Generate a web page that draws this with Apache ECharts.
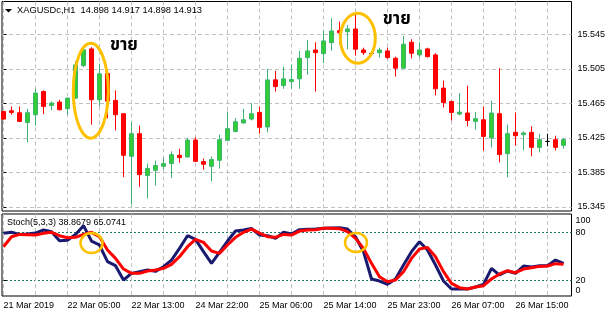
<!DOCTYPE html>
<html><head><meta charset="utf-8">
<script src="https://cdn.jsdelivr.net/npm/echarts@6/dist/echarts.min.js"></script>
<style>html,body{margin:0;padding:0;background:#fff}#c{width:612px;height:318px}</style>
</head><body><div id="c"></div>
<script>
// ---------- data ----------
const symbolTitle = 'XAGUSDc,H1  14.898 14.917 14.898 14.913';
const stochTitle = 'Stoch(5,3,3) 38.8679 65.0741';
const priceTicks = [15.345, 15.385, 15.425, 15.465, 15.505, 15.545];
const stochLevels = [20, 80];
const stochEdgeTicks = [0, 100];
const gridBarIndex = [0, 4, 8, 12, 16, 20, 24, 28, 32, 36, 40, 44, 48, 52, 56, 60, 64, 68];
const timeTickIndex = [0, 8, 16, 24, 32, 40, 48, 56, 64];
const timeTickLabels = ['21 Mar 2019', '22 Mar 05:00', '22 Mar 13:00', '24 Mar 22:00', '25 Mar 06:00',
  '25 Mar 14:00', '25 Mar 23:00', '26 Mar 07:00', '26 Mar 15:00'];

const openP = [15.4556,15.4563,15.4540,15.4428,15.4517,15.4787,15.4625,15.4664,15.4587,15.4710,
  15.5087,15.5280,15.4691,15.4995,15.4683,15.4529,15.4035,15.4297,15.3812,15.3873,
  15.3919,15.3951,15.4047,15.4028,15.4224,15.3974,15.3919,15.3989,15.4220,15.4324,
  15.4421,15.4467,15.4544,15.4375,15.4922,15.4856,15.4902,15.4933,15.5180,15.5268,
  15.5226,15.5353,15.5492,15.5480,15.5511,15.5268,15.5228,15.5237,15.5257,15.5172,
  15.5057,15.5357,15.5211,15.5280,15.5211,15.4826,15.4671,15.4525,15.4537,15.4440,
  15.4459,15.4248,15.4529,15.4066,15.4313,15.4286,15.4313,15.4139,15.4208,15.4228,15.4162];
const closeP = [15.4467,15.4544,15.4440,15.4540,15.4768,15.4614,15.4652,15.4575,15.4710,15.5095,
  15.5270,15.4691,15.4991,15.4675,15.4517,15.4047,15.4297,15.3823,15.3893,15.3928,
  15.3951,15.4055,15.4020,15.4224,15.3977,15.3943,15.3997,15.4228,15.4355,15.4436,
  15.4459,15.4529,15.4371,15.4921,15.4844,15.4933,15.4925,15.5172,15.5257,15.5237,
  15.5373,15.5488,15.5468,15.5511,15.5277,15.5237,15.5228,15.5268,15.5180,15.5057,
  15.5334,15.5230,15.5268,15.5191,15.4818,15.4659,15.4544,15.4548,15.4451,15.4471,
  15.4266,15.4537,15.4055,15.4297,15.4274,15.4306,15.4139,15.4228,15.4208,15.4139,15.4228];
const lowP = [15.4460,15.4517,15.4437,15.4197,15.4394,15.4525,15.4568,15.4568,15.4517,15.4700,
  15.5070,15.4402,15.4614,15.4475,15.4336,15.3793,15.3477,15.3681,15.3546,15.3696,
  15.3881,15.3783,15.3962,15.4020,15.3970,15.3881,15.3746,15.3893,15.4215,15.4313,
  15.4418,15.4451,15.4297,15.4313,15.4786,15.4818,15.4818,15.4818,15.4980,15.4786,
  15.5115,15.5260,15.5334,15.5277,15.5203,15.5211,15.5200,15.5180,15.5164,15.4960,
  15.5057,15.5172,15.5180,15.5180,15.4740,15.4601,15.4451,15.4509,15.4382,15.4344,
  15.4101,15.4139,15.3966,15.3792,15.4159,15.4104,15.4035,15.4081,15.4151,15.4104,15.4124];
const highP = [15.4560,15.4613,15.4613,15.4586,15.4818,15.4799,15.4672,15.4691,15.4712,15.5141,
  15.5280,15.5300,15.5110,15.5010,15.4799,15.4535,15.4433,15.4390,15.3951,15.3985,
  15.4020,15.4093,15.4124,15.4248,15.4255,15.4009,15.4032,15.4286,15.4555,15.4479,
  15.4586,15.4652,15.4613,15.5049,15.5026,15.5075,15.5100,15.5257,15.5384,15.5357,
  15.5492,15.5635,15.5596,15.5558,15.5693,15.5295,15.5235,15.5295,15.5295,15.5191,
  15.5430,15.5392,15.5357,15.5295,15.5230,15.4914,15.4680,15.4768,15.4852,15.4548,
  15.4613,15.4679,15.5057,15.4402,15.4544,15.4324,15.4382,15.4297,15.4297,15.4274,15.4248];

const stochMain = [78.7,80,77.4,77.9,79.1,82.9,80.8,69.5,70,77.4,
  88.3,69.1,64.1,43.3,38.3,20.4,28.7,30.8,32.9,31.2,
  37,45.3,59.9,75.8,71.2,55.8,41.2,55,69.1,81.6,
  82.9,84.9,76.6,75.8,72.4,80,77.9,83.3,83.7,84.1,
  85,85.4,85.8,84.1,74.5,55.8,21.6,19.1,15,21.6,
  39.1,55.8,68.3,57.9,39.1,19.1,9.1,9.1,9.1,11.6,
  15,35,26.6,31.6,28.7,37.9,36.6,38.3,38.3,45.3,41.2];
const stochSignal = [62,74.5,77.4,77,76.6,78.7,80,75.8,73.3,73.7,
  77.4,80,74.5,57.9,47.4,34.1,28.7,28.7,31.6,32.9,
  35,40,49.5,62,71.2,67.4,56.6,53.7,64.1,73.7,
  80,84.1,79.1,74.5,73.7,77.4,76.6,81.6,82.9,83.3,
  85,85,84.5,80.8,72.4,59.9,41.2,24.5,18.3,20.4,
  30.8,47.4,59.1,61.2,49.5,30.8,16.2,10.8,9.1,11.6,
  13.3,21.6,27.9,32,29.5,34.1,35.8,37.4,37.9,40.8,40];

const sellText = 'ขาย';
// annotations anchored in data coordinates (bar index, value)
const sellNotes = [[13.3, 15.5306], [47.4, 15.5610]];
const priceRings = [[10.91, 15.4795, 17.5, 47.5], [44.29, 15.5404, 17.5, 25]];
const stochRings = [[11.0, 66.6, 11, 10], [44.06, 67.3, 11, 9.5]];

// ---------- chart ----------
const candles = openP.map((o, i) => [i, o, closeP[i], lowP[i], highP[i]]);
const kLine = stochMain.map((v, i) => [i, v]);
const dLine = stochSignal.map((v, i) => [i, v]);

const FONT = "'Liberation Sans', Arial, sans-serif";
const gridDash = { color: '#c0c0c0', type: [4, 3], width: 1 };
const xRange = { min: -0.1875, max: 71 };

const chart = echarts.init(document.getElementById('c'), null, { renderer: 'canvas' });
const option = {
  animation: false,
  backgroundColor: '#ffffff',
  textStyle: { fontFamily: FONT },
  title: [
    { text: symbolTitle, left: 17, top: 5.5, padding: 0,
      textStyle: { fontSize: 9.3, fontWeight: 'normal', color: '#000', fontFamily: FONT } },
    { text: stochTitle, left: 7, top: 218, padding: 0,
      textStyle: { fontSize: 9, fontWeight: 'normal', color: '#000', fontFamily: FONT } }
  ],
  grid: [
    { left: 2, right: 40.5, top: 1.5, height: 209.5, show: true, borderColor: '#000', borderWidth: 1, outerBoundsMode: 'none' },
    { left: 2, right: 40.5, top: 214, height: 82, show: true, borderColor: '#000', borderWidth: 1, outerBoundsMode: 'none' }
  ],
  xAxis: [
    { type: 'value', gridIndex: 0, ...xRange,
      axisLine: { show: false }, axisTick: { show: false, customValues: gridBarIndex },
      axisLabel: { show: false }, splitLine: { show: true, lineStyle: gridDash } },
    { type: 'value', gridIndex: 1, ...xRange,
      axisLine: { show: false }, axisTick: { show: false, customValues: gridBarIndex },
      axisLabel: { show: true, customValues: timeTickIndex, align: 'left', margin: 5, fontSize: 9, color: '#000',
        fontFamily: FONT, formatter: v => timeTickLabels[timeTickIndex.indexOf(v)] },
      splitLine: { show: true, lineStyle: gridDash } }
  ],
  yAxis: [
    { type: 'value', gridIndex: 0, position: 'right', min: 15.3401, max: 15.5830,
      axisLine: { show: false },
      axisTick: { show: true, length: 3, customValues: priceTicks, lineStyle: { color: '#000' } },
      axisLabel: { show: true, customValues: priceTicks, margin: 6, fontSize: 9, color: '#000', fontFamily: FONT,
        formatter: v => v.toFixed(3) },
      splitLine: { show: true, lineStyle: gridDash } },
    { type: 'value', gridIndex: 1, position: 'right', min: 0.375, max: 102.9,
      axisLine: { show: false },
      axisTick: { show: true, length: 3, customValues: stochLevels, lineStyle: { color: '#000' } },
      axisLabel: { show: true, customValues: stochLevels, margin: 4, fontSize: 9, color: '#000', fontFamily: FONT },
      splitLine: { show: true, lineStyle: { color: '#1f7a6c', type: [2, 2], width: 1 } } },
    { type: 'value', gridIndex: 1, position: 'right', min: -7.43, max: 109.7,
      axisLine: { show: false },
      axisTick: { show: false, customValues: stochEdgeTicks },
      axisLabel: { show: true, customValues: stochEdgeTicks, margin: 4, fontSize: 9, color: '#000', fontFamily: FONT },
      splitLine: { show: false } }
  ],
  series: [
    { type: 'candlestick', xAxisIndex: 0, yAxisIndex: 0, data: candles, barWidth: 4,
      itemStyle: { color: '#32cd32', color0: '#ff0000', borderColor: '#3cb371', borderColor0: '#ff0000',
        borderColorDoji: '#000000', borderWidth: 1 } },
    { type: 'line', xAxisIndex: 1, yAxisIndex: 1, data: kLine, showSymbol: false, symbol: 'none',
      lineStyle: { color: '#191970', width: 3 }, z: 3 },
    { type: 'line', xAxisIndex: 1, yAxisIndex: 1, data: dLine, showSymbol: false, symbol: 'none',
      lineStyle: { color: '#ff0000', width: 3 }, z: 4 }
  ]
};
chart.setOption(option);

const gold = '#ffc000';
const g = [];
g.push({ type: 'polygon', shape: { points: [[5, 9], [12, 9], [8.5, 12.5]] }, style: { fill: '#000' }, z: 100 });
priceRings.forEach(r => {
  const p = chart.convertToPixel({ xAxisIndex: 0, yAxisIndex: 0 }, [r[0], r[1]]);
  g.push({ type: 'ellipse', shape: { cx: p[0], cy: p[1], rx: r[2], ry: r[3] },
    style: { fill: null, stroke: gold, lineWidth: 3 }, z: 100 });
});
stochRings.forEach(r => {
  const p = chart.convertToPixel({ xAxisIndex: 1, yAxisIndex: 1 }, [r[0], r[1]]);
  g.push({ type: 'ellipse', shape: { cx: p[0], cy: p[1], rx: r[2], ry: r[3] },
    style: { fill: null, stroke: gold, lineWidth: 2.5 }, z: 100 });
});
sellNotes.forEach(n => {
  const p = chart.convertToPixel({ xAxisIndex: 0, yAxisIndex: 0 }, [n[0], n[1]]);
  g.push({ type: 'text', x: p[0], y: p[1], z: 100,
    style: { text: sellText, fill: '#000', fontSize: 17, fontWeight: 'bold',
      fontFamily: "'Noto Sans Thai', 'Noto Sans', 'DejaVu Sans', sans-serif", align: 'left', verticalAlign: 'middle' } });
});
chart.setOption({ graphic: g });
</script></body></html>
